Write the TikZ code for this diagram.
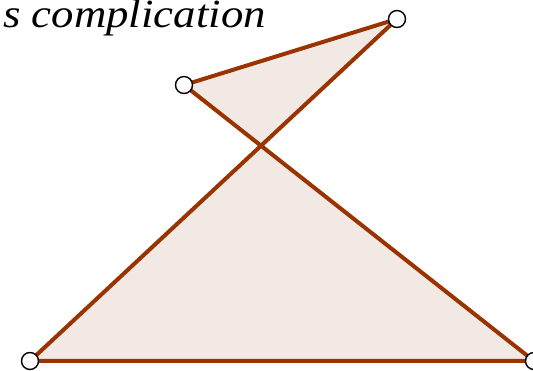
\documentclass[tikz,border=0pt]{standalone}
\usepackage{fontspec}
\setmainfont{Liberation Serif}
\definecolor{edgebrown}{RGB}{153,51,0}
\definecolor{fillpink}{RGB}{242,232,228}
\begin{document}
\begin{tikzpicture}[x=1pt,y=-1pt,
  pt/.style={circle,draw=black,fill=white,line width=1.4pt,inner sep=0pt,minimum size=17pt},
  edge/.style={draw=edgebrown,line width=4pt,line join=round}]
\useasboundingbox (0,0) rectangle (533,371);
\coordinate (A) at (30,361);
\coordinate (B) at (397,19);
\coordinate (C) at (184,85);
\coordinate (D) at (534,361);
\fill[fillpink] (A) -- (B) -- (C) -- (D) -- cycle;
\draw[edge] (A) -- (B) -- (C) -- (D) -- cycle;
\node[pt] (a) at (A) {};
\node[pt] (b) at (B) {};
\node[pt] (c) at (C) {};
\node[pt] (d) at (D) {};
\node[anchor=base east,inner sep=0pt,font=\itshape\fontsize{40}{44}\selectfont,xscale=1.12] (t) at (266,27.5) {s complication};
\end{tikzpicture}
\end{document}
